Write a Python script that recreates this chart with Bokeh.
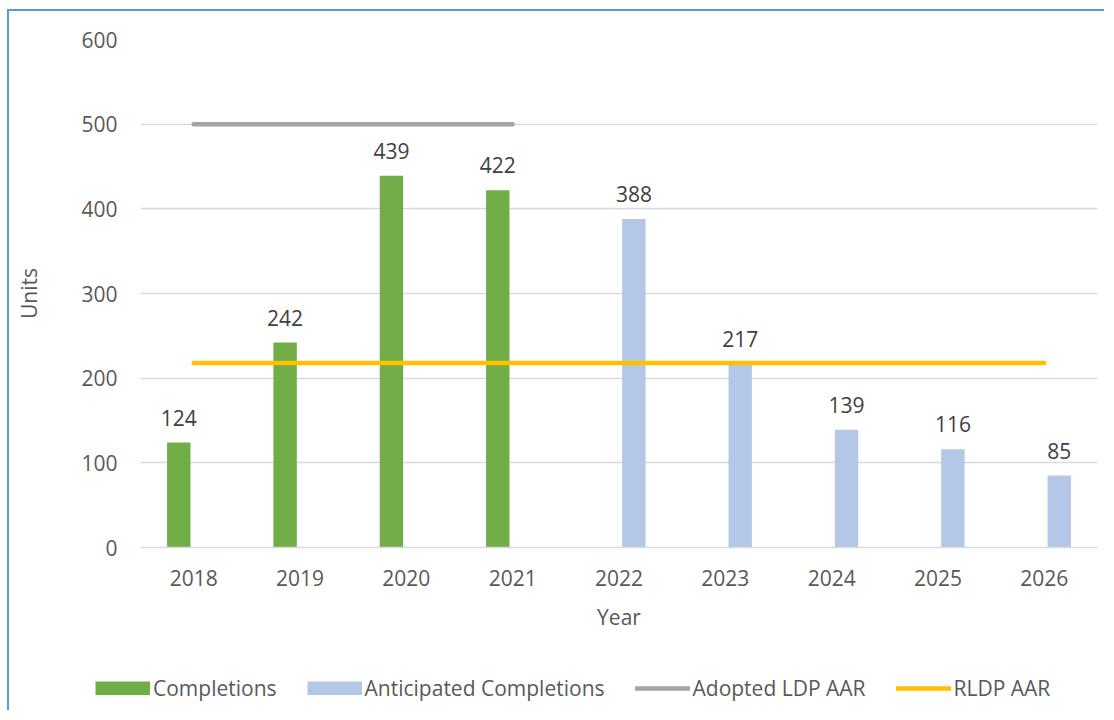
from bokeh.plotting import figure
from bokeh.layouts import column
from bokeh.models import FactorRange, Range1d, ColumnDataSource, Legend, LegendItem, FixedTicker
from bokeh.transform import dodge
from bokeh.core.properties import value
from bokeh.embed import file_html
from bokeh.resources import INLINE

years = ["2018", "2019", "2020", "2021", "2022", "2023", "2024", "2025", "2026"]
completion_years = ["2018", "2019", "2020", "2021"]
completions = [124, 242, 439, 422]
anticipated_years = ["2022", "2023", "2024", "2025", "2026"]
anticipated = [388, 217, 139, 116, 85]
ldp_years = ["2018", "2019", "2020", "2021"]
ldp_aar = [500, 500, 500, 500]
rldp_years = ["2018", "2019", "2020", "2021", "2022", "2023", "2024", "2025", "2026"]
rldp_aar = [218, 218, 218, 218, 218, 218, 218, 218, 218]
y_ticks = [0, 100, 200, 300, 400, 500, 600]
series_names = ["Completions", "Anticipated Completions", "Adopted LDP AAR", "RLDP AAR"]

FONT = "Open Sans"
GREEN = "#70AD47"
BLUE = "#B4C7E7"
GRAY = "#A5A5A5"
YELLOW = "#FFC000"
EDGE = "2px solid #5B9BD5"

p = figure(width=1097, height=639, x_range=FactorRange(*years, range_padding=0),
           y_range=Range1d(0, 600), output_backend="svg", toolbar_location=None,
           min_border_left=131, min_border_right=9, min_border_top=28, min_border_bottom=103)
p.margin = (9, 0, 0, 7)
p.styles = {"border-left": EDGE, "border-top": EDGE}
p.frame_align = False
p.background_fill_color = "white"
p.border_fill_color = "white"
p.outline_line_color = None

src_c = ColumnDataSource(dict(x=completion_years, y=completions, t=[str(v) for v in completions]))
src_a = ColumnDataSource(dict(x=anticipated_years, y=anticipated, t=[str(v) for v in anticipated]))

xc = dodge("x", -0.14, range=p.x_range)
xa = dodge("x", 0.14, range=p.x_range)
p.vbar(x=xc, top="y", width=0.22, source=src_c, fill_color=GREEN, line_color=None)
p.vbar(x=xa, top="y", width=0.22, source=src_a, fill_color=BLUE, line_color=None)
p.line(x=ldp_years, y=ldp_aar, line_color=GRAY, line_width=4.5, line_cap="round")
p.line(x=rldp_years, y=rldp_aar, line_color=YELLOW, line_width=4.5, line_cap="round")

for src, xx in ((src_c, xc), (src_a, xa)):
    p.text(x=xx, y="y", text="t", source=src, text_align="center", text_baseline="alphabetic",
           y_offset=-25, text_font=value(FONT), text_font_size="21px", text_color="#404040")

p.xgrid.grid_line_color = None
p.ygrid.grid_line_color = "#D9D9D9"
p.ygrid.grid_line_width = 1.3
p.yaxis.ticker = FixedTicker(ticks=y_ticks)

for ax in (p.xaxis[0], p.yaxis[0]):
    ax.major_tick_line_color = None
    ax.minor_tick_line_color = None
    ax.major_label_text_font = FONT
    ax.major_label_text_font_size = "21px"
    ax.major_label_text_color = "#595959"
    ax.axis_label_text_font = FONT
    ax.axis_label_text_font_size = "21px"
    ax.axis_label_text_color = "#595959"
    ax.axis_label_text_font_style = "normal"

p.yaxis.axis_line_color = None
p.xaxis.axis_line_color = "#D9D9D9"
p.xaxis.axis_line_width = 1.5
p.yaxis.axis_label = "Units"
p.xaxis.axis_label = "Year"
p.yaxis.major_label_standoff = 17
p.yaxis.axis_label_standoff = 35
p.xaxis.major_label_standoff = 16
p.xaxis.axis_label_standoff = 14

# Legend strip below the chart
pl = figure(width=1097, height=62, x_range=Range1d(0, 1), y_range=Range1d(0, 1),
            output_backend="svg", toolbar_location=None,
            min_border_left=0, min_border_right=0, min_border_top=0, min_border_bottom=0)
pl.margin = (0, 0, 0, 7)
pl.styles = {"border-left": EDGE}
pl.frame_align = False
pl.axis.visible = False
pl.grid.visible = False
pl.outline_line_color = None
pl.background_fill_color = "white"
pl.border_fill_color = "white"
l_c = pl.line(x=[5, 6], y=[5, 5], line_color=GREEN, line_width=14, line_cap="butt")
l_a = pl.line(x=[5, 6], y=[5, 5], line_color=BLUE, line_width=14, line_cap="butt")
l_l = pl.line(x=[5, 6], y=[5, 5], line_color=GRAY, line_width=4.5, line_cap="round")
l_r = pl.line(x=[5, 6], y=[5, 5], line_color=YELLOW, line_width=4.5, line_cap="round")

legend = Legend(items=[LegendItem(label=n, renderers=[r]) for n, r in
                       zip(series_names, [l_c, l_a, l_l, l_r])],
                orientation="horizontal", location=(86, 8), glyph_width=55, glyph_height=14,
                label_standoff=3, spacing=30, padding=0, margin=0, border_line_color=None,
                background_fill_alpha=0, label_text_font=FONT, label_text_font_size="21px",
                label_text_color="#595959", label_height=20)
pl.add_layout(legend, "center")

layout = column(p, pl, spacing=0)
open("out.html", "w").write(file_html(layout, INLINE))
